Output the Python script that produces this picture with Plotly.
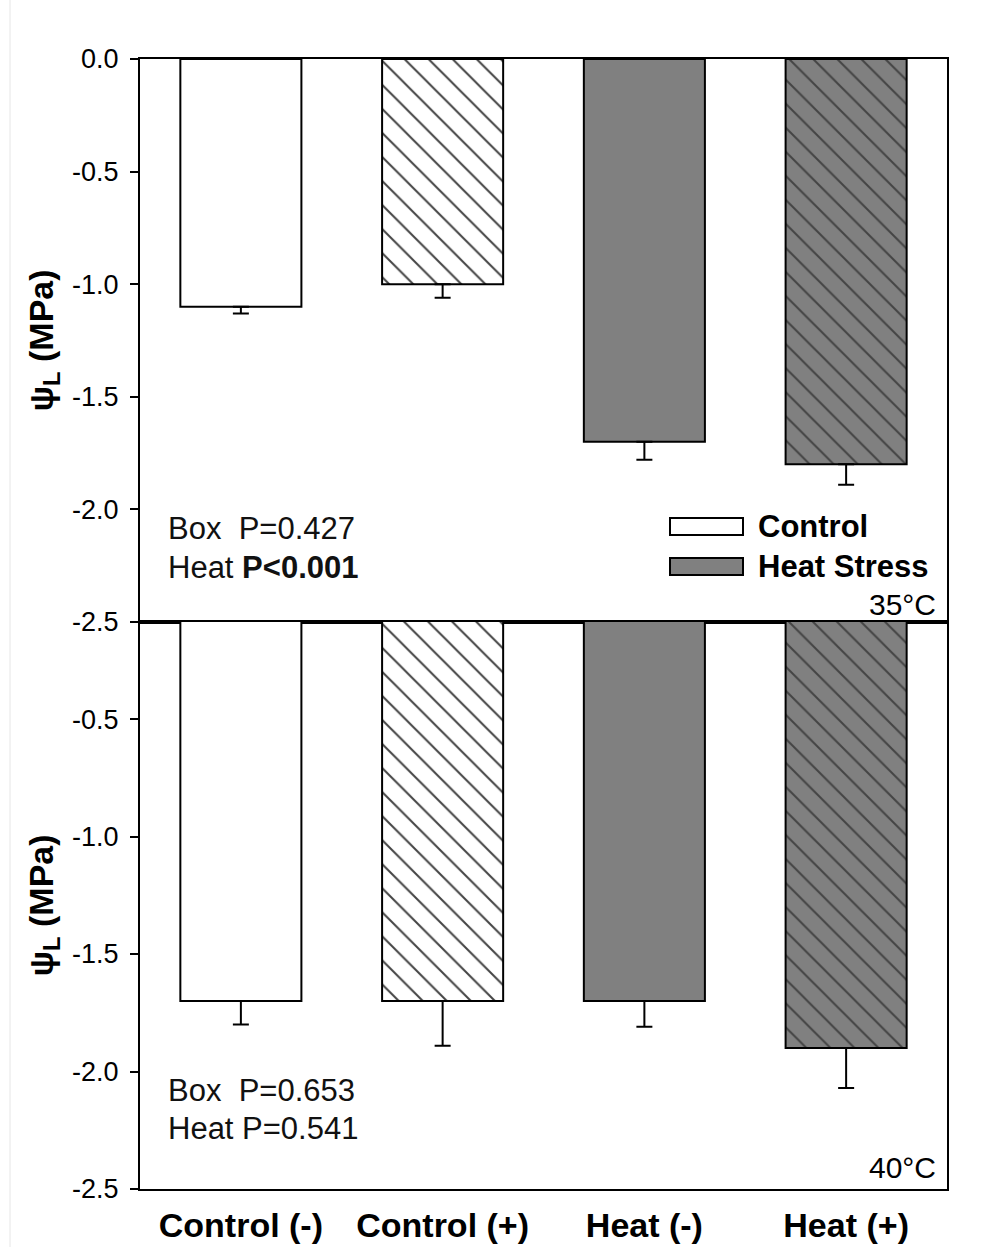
import plotly.graph_objects as go

categories = ["Control (-)", "Control (+)", "Heat (-)", "Heat (+)"]
top_means = [-1.10, -1.00, -1.70, -1.80]
top_err = [0.03, 0.06, 0.08, 0.09]
bottom_means = [-1.70, -1.70, -1.70, -1.90]
bottom_err = [0.10, 0.19, 0.11, 0.17]
fill_colors = ["white", "white", "#808080", "#808080"]
patterns = ["", "\\", "", "\\"]
ytick_vals_top = [0.0, -0.5, -1.0, -1.5, -2.0, -2.5]
ytick_vals_bottom = [-0.5, -1.0, -1.5, -2.0, -2.5]

FONT = "Liberation Sans, Arial, sans-serif"
W, H = 982, 1247
L, R, T, B = 140, 35, 59, 58
PW, PH = W - L - R, H - T - B
split_px = 622


def px_x(x):
    return (x - L) / PW


def px_y(y):
    return (H - B - y) / PH


split = px_y(split_px)

fig = go.Figure()


def add_bars(means, errs, xa, ya):
    fig.add_trace(go.Bar(
        x=categories, y=means, width=0.6,
        marker=dict(
            color=fill_colors,
            line=dict(color="black", width=2),
            pattern=dict(shape=patterns, fgcolor="black", fgopacity=1,
                         size=17, solidity=0.12, fillmode="overlay"),
        ),
        error_y=dict(type="data", symmetric=False, array=[0] * len(errs),
                     arrayminus=errs, color="black", thickness=2, width=8),
        xaxis=xa, yaxis=ya, showlegend=False,
    ))


add_bars(top_means, top_err, "x", "y")
add_bars(bottom_means, bottom_err, "x2", "y2")


def tick_text(vals):
    return [f"{v:.1f}".replace("−", "-") for v in vals]


axis_common = dict(showline=True, linecolor="black", linewidth=2, mirror=True,
                   showgrid=False, zeroline=False, automargin=False)
yfont = dict(family=FONT, size=27, color="black")
ytitle = dict(text="<b>ψ<sub>L</sub> (MPa)</b>", font=dict(family=FONT, size=34, color="black"),
              standoff=8)

fig.update_layout(
    width=W, height=H,
    margin=dict(l=L, r=R, t=T, b=B, autoexpand=False),
    paper_bgcolor="white", plot_bgcolor="white",
    bargap=0.4,
    xaxis=dict(domain=[0, 1], anchor="y", showticklabels=False, ticks="",
               range=[-0.5, 3.5], type="category", **axis_common),
    yaxis=dict(domain=[split, 1], anchor="x", range=[-2.5, 0.0],
               tickvals=ytick_vals_top, ticktext=tick_text(ytick_vals_top), ticks="outside",
               ticklen=8, tickwidth=2, tickcolor="black", tickfont=yfont,
               ticklabelstandoff=6, title=ytitle, **axis_common),
    xaxis2=dict(domain=[0, 1], anchor="y2", ticks="", range=[-0.5, 3.5], type="category",
                tickvals=categories, ticktext=[f"<b>{c}</b>" for c in categories],
                ticklabelstandoff=5,
                tickfont=dict(family=FONT, size=34, color="black"), **axis_common),
    yaxis2=dict(domain=[0, split], anchor="x2", range=[-2.5, -0.087],
                tickvals=ytick_vals_bottom, ticktext=tick_text(ytick_vals_bottom), ticks="outside",
                ticklen=8, tickwidth=2, tickcolor="black", tickfont=yfont,
                ticklabelstandoff=6, title=ytitle, **axis_common),
)

ann_font = dict(family=FONT, size=31, color="#111111")
annots = [
    ("Box&nbsp;&nbsp;P=0.427", 166, 528, "left"),
    ("Heat <b>P&lt;0.001</b>", 166, 567, "left"),
    ("Box&nbsp;&nbsp;P=0.653", 166, 1090, "left"),
    ("Heat P=0.541", 166, 1128, "left"),
]
for text, x, y, anc in annots:
    fig.add_annotation(text=text, x=px_x(x), y=px_y(y), xref="paper", yref="paper",
                       xanchor=anc, yanchor="middle", showarrow=False, font=ann_font)

for text, y in [("35°C", 604), ("40°C", 1167)]:
    fig.add_annotation(text=text, x=px_x(938), y=px_y(y), xref="paper", yref="paper",
                       xanchor="right", yanchor="middle", showarrow=False,
                       font=dict(family=FONT, size=30, color="black"))

# legend
legend_items = [("Control", "white", 518, 535), ("Heat Stress", "#808080", 558, 575)]
for label, col, y0, y1 in legend_items:
    fig.add_shape(type="rect", xref="paper", yref="paper",
                  x0=px_x(670), x1=px_x(743), y0=px_y(y1), y1=px_y(y0),
                  fillcolor=col, line=dict(color="black", width=2))
    fig.add_annotation(text=f"<b>{label}</b>", x=px_x(756), y=px_y((y0 + y1) / 2),
                       xref="paper", yref="paper", xanchor="left", yanchor="middle",
                       showarrow=False, font=dict(family=FONT, size=31, color="black"))

# faint page edge line
fig.add_shape(type="line", xref="paper", yref="paper", x0=px_x(10), x1=px_x(10),
              y0=px_y(H), y1=px_y(0), line=dict(color="#e6e6e6", width=1))

fig.write_html("out.html")
